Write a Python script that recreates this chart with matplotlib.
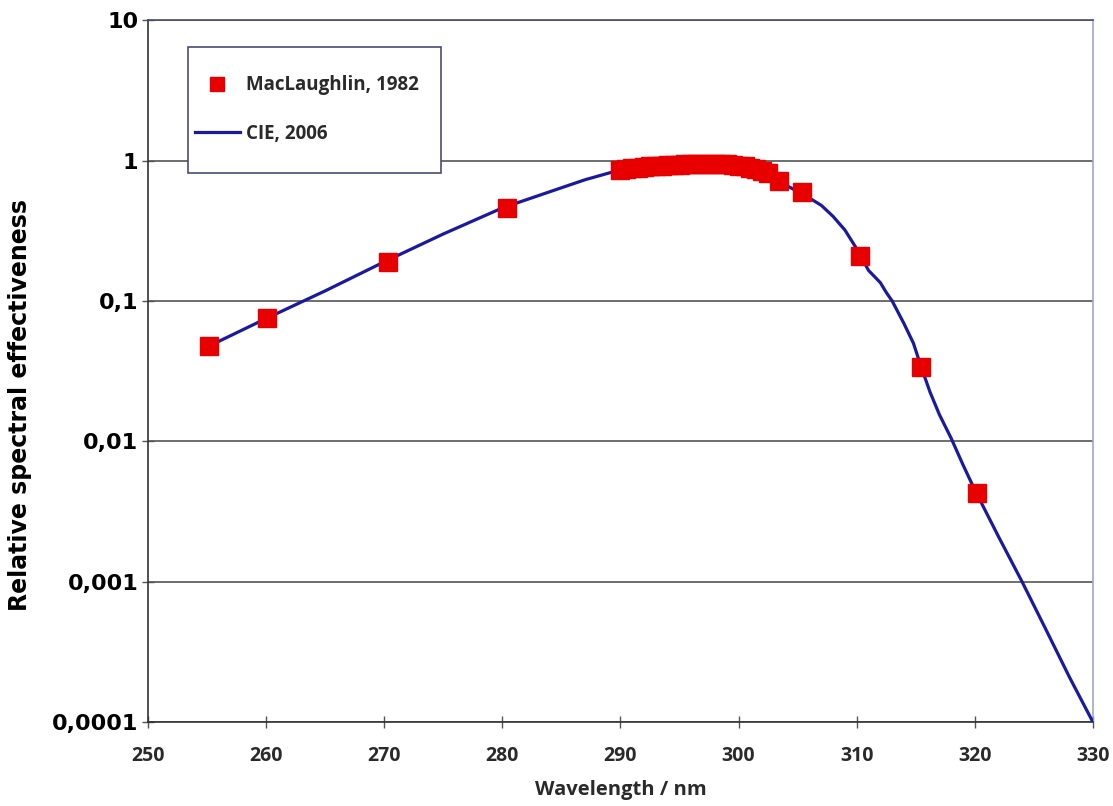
import numpy as np
import matplotlib.pyplot as plt
from matplotlib.patches import Rectangle
from matplotlib.ticker import FixedLocator, NullLocator

plt.rcParams.update({
    "font.family": "DejaVu Sans",
    "axes.linewidth": 1.2,
})

# MacLaughlin (1982) measured points
mac_wl = [255.2, 260.1, 270.3, 280.4,
          290.0, 290.5, 291.0, 291.5, 292.0, 292.5, 293.0, 293.5, 294.0, 294.5,
          295.0, 295.5, 296.0, 296.5, 297.0, 297.5, 298.0, 298.5, 299.0, 299.5,
          300.0, 300.5, 301.0, 301.5, 302.0, 302.5,
          303.4, 305.4, 310.3, 315.4, 320.2]
mac_eff = [0.048, 0.076, 0.19, 0.46,
           0.86, 0.87, 0.88, 0.89, 0.90, 0.91, 0.915, 0.92, 0.925, 0.93,
           0.935, 0.94, 0.945, 0.95, 0.95, 0.95, 0.95, 0.945, 0.94, 0.93,
           0.92, 0.91, 0.89, 0.87, 0.84, 0.81,
           0.72, 0.60, 0.21, 0.034, 0.0043]

# CIE (2006) action spectrum
cie_wl = [255, 260, 265, 270, 275, 280, 285, 287, 290, 293, 295, 297, 298,
          300, 302, 303, 304, 305, 306, 307, 308, 309, 310, 311, 312, 312.5,
          313, 314, 314.8, 315.4, 316.2, 317, 318, 319, 320, 322, 324, 326,
          328, 330]
cie_eff = [0.047, 0.075, 0.118, 0.19, 0.30, 0.46, 0.64, 0.73, 0.86, 0.92,
           0.95, 0.96, 0.96, 0.93, 0.84, 0.76, 0.67, 0.60, 0.54, 0.48, 0.40,
           0.32, 0.235, 0.165, 0.135, 0.115, 0.10, 0.069, 0.05, 0.035,
           0.0225, 0.0155, 0.0105, 0.0068, 0.0045, 0.0021, 0.001, 0.00046,
           0.00021, 0.0001]

y_ticks = [0.0001, 0.001, 0.01, 0.1, 1, 10]
y_labels = ["0,0001", "0,001", "0,01", "0,1", "1", "10"]
x_ticks = [250, 260, 270, 280, 290, 300, 310, 320, 330]

fig = plt.figure(figsize=(11.13, 8.06), dpi=100)
ax = fig.add_axes([0.133, 0.104, 0.849, 0.871])

ax.plot(cie_wl, cie_eff, color="#1a1aa0", lw=2.3, label="CIE, 2006", zorder=3)
ax.plot(mac_wl, mac_eff, ls="none", marker="s", ms=13, color="#e80000",
        mec="#e80000", label="MacLaughlin, 1982", zorder=4)

ax.set_yscale("log")
ax.set_xlim(250, 330)
ax.set_ylim(0.0001, 10)
ax.yaxis.set_major_locator(FixedLocator(y_ticks))
ax.yaxis.set_minor_locator(NullLocator())
ax.set_yticklabels(y_labels, fontsize=16, fontweight="bold")
ax.set_xticks(x_ticks)
ax.set_xticklabels([str(v) for v in x_ticks], fontsize=14,
                   family="Open Sans", fontweight="bold", color="#2a2a2a")
ax.tick_params(axis="x", direction="inout", length=8, width=1, pad=13,
               color="#555555")
ax.tick_params(axis="y", direction="inout", length=8, width=1, pad=3,
               color="#555555")
ax.grid(axis="y", color="#555555", lw=1.2)

for side in ["left", "bottom"]:
    ax.spines[side].set_color("#333333")
ax.spines["top"].set_color("#4a4a7a")
ax.spines["right"].set_color("#a0a8c8")

ax.set_ylabel("Relative spectral effectiveness", fontsize=17, fontweight="bold")
ax.yaxis.set_label_coords(-0.1228, 0.452)
ax.set_xlabel("Wavelength / nm", fontsize=14.5, family="Open Sans",
              fontweight="bold", color="#2a2a2a", labelpad=10)

# legend box drawn separately so its padding can match the original
ax.add_patch(Rectangle((0.0423, 0.782), 0.268, 0.1795, transform=ax.transAxes,
                       facecolor="white", edgecolor="#4a4a7a", lw=1.2,
                       zorder=4.5))
handles, labels = ax.get_legend_handles_labels()
leg = ax.legend(handles[::-1], labels[::-1], loc="upper left",
                bbox_to_anchor=(0.0497, 0.9215), borderaxespad=0, borderpad=0,
                frameon=False, labelspacing=1.51, handlelength=2.4,
                handletextpad=0.3, markerscale=0.75,
                prop={"family": "Open Sans", "weight": "bold", "size": 13.5})
leg.set_zorder(5)
for t in leg.get_texts():
    t.set_color("#2a2a2a")

fig.savefig("out.png", dpi=100, facecolor="white")
